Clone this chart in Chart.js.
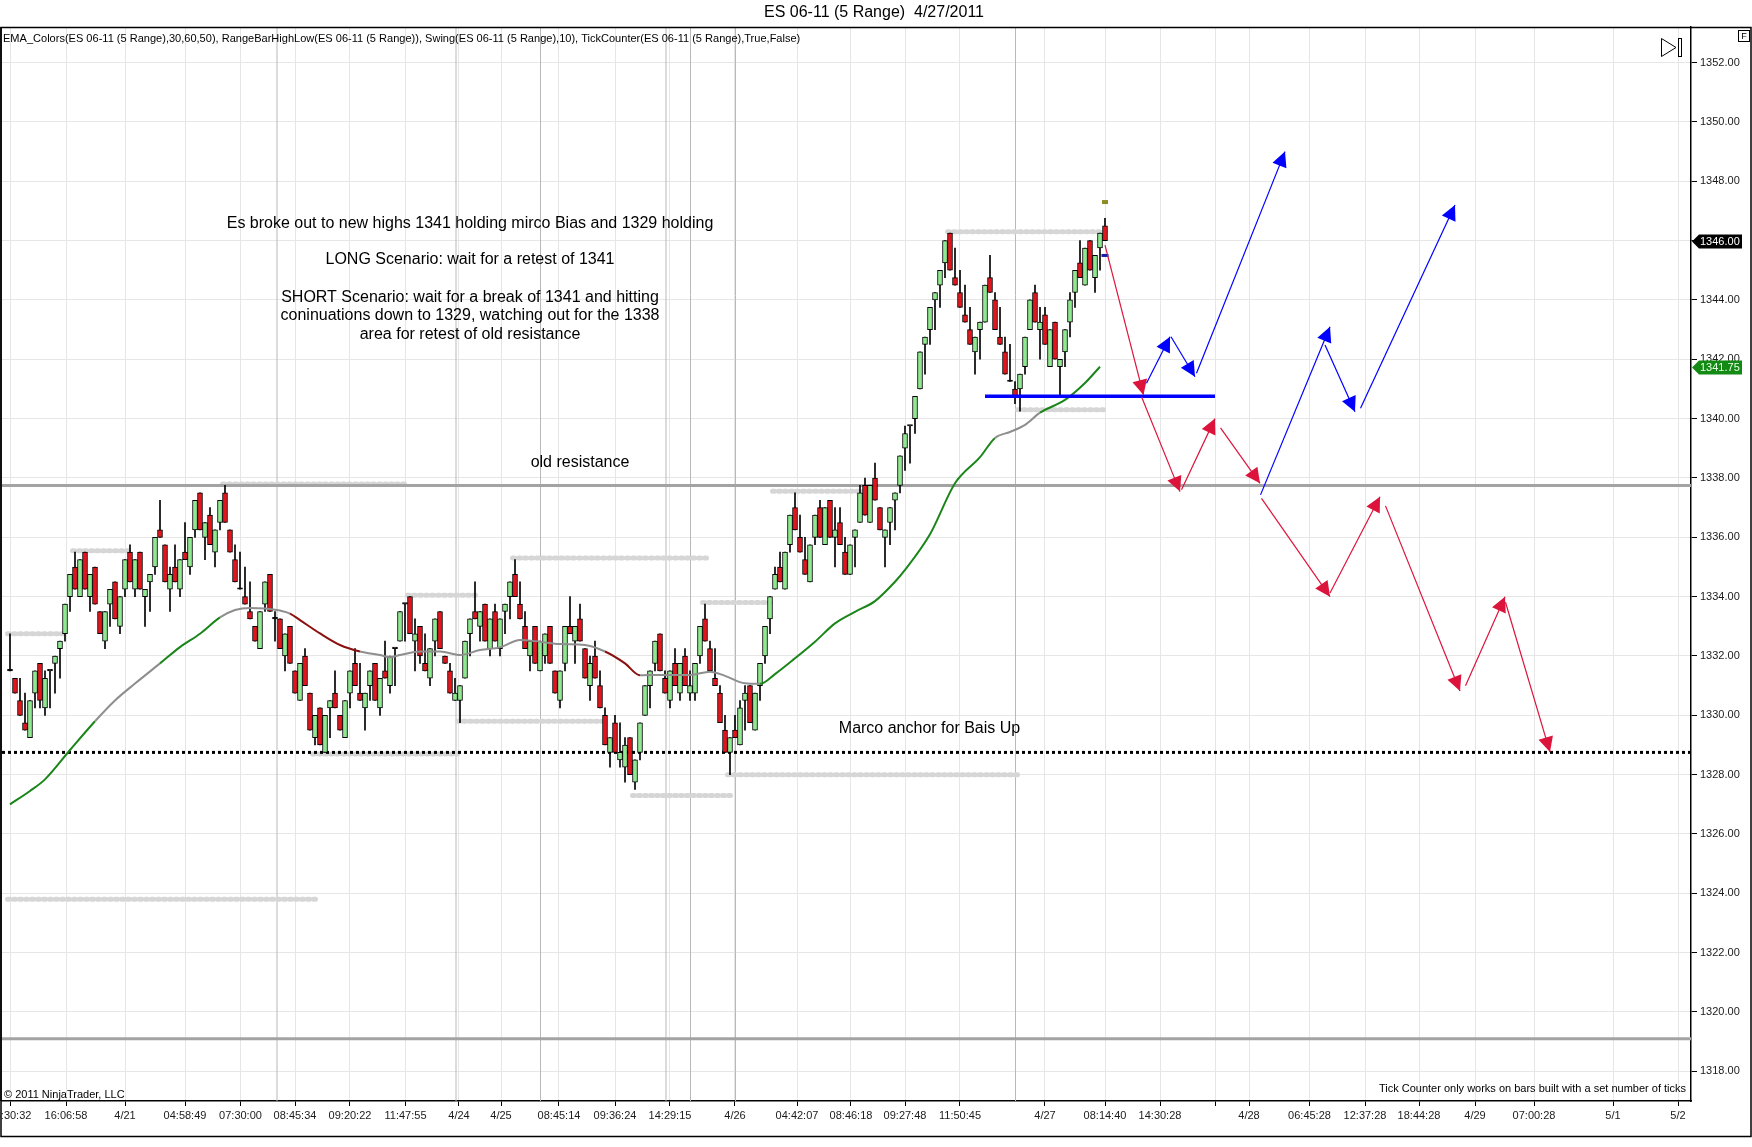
<!DOCTYPE html>
<html><head><meta charset="utf-8">
<script src="https://cdn.jsdelivr.net/npm/chart.js@4.4.1/dist/chart.umd.min.js"></script>
<style>html,body{margin:0;padding:0;background:#fff;overflow:hidden}canvas{display:block}</style>
</head><body>
<canvas id="c" width="1752" height="1147" style="width:1752px;height:1147px"></canvas>
<script>
// ---------- DATA ----------
const chartTitle = 'ES 06-11 (5 Range)  4/27/2011';
const indicatorText = 'EMA_Colors(ES 06-11 (5 Range),30,60,50), RangeBarHighLow(ES 06-11 (5 Range)), Swing(ES 06-11 (5 Range),10), TickCounter(ES 06-11 (5 Range),True,False)';

const opens = [
1331.5,1331.25,1330.5,1329.75,1329.25,1330.75,1331.75,1330.25,1331.5,1331.75,
1332.25,1332.75,1334.0,1335.0,1334.0,1335.5,1334.0,1335.0,1333.5,1332.5,
1333.75,1334.5,1333.0,1334.25,1335.5,1334.25,1335.5,1334.0,1334.5,1335.0,
1336.25,1335.75,1334.25,1335.0,1334.25,1335.5,1335.0,1336.25,1337.5,1336.0,
1336.75,1335.5,1336.5,1337.5,1336.25,1335.25,1334.25,1334.0,1333.5,1333.0,
1332.25,1333.75,1334.75,1333.25,1333.25,1332.0,1333.0,1331.5,1330.5,1332.0,
1330.75,1329.25,1330.25,1328.75,1330.25,1330.75,1330.0,1329.25,1330.75,1331.75,
1330.75,1330.25,1331.0,1331.75,1330.25,1331.5,1331.0,1332.25,1332.5,1333.75,
1334.0,1332.5,1333.0,1331.75,1331.25,1332.5,1333.5,1332.0,1331.5,1330.5,
1330.5,1331.25,1332.75,1333.5,1333.0,1333.75,1332.25,1333.5,1332.25,1333.5,
1334.0,1334.75,1333.75,1333.0,1332.0,1333.0,1331.5,1332.0,1333.0,1331.5,
1330.5,1331.75,1333.0,1332.5,1333.25,1332.25,1331.0,1332.0,1331.0,1330.0,
1328.75,1329.75,1328.5,1328.25,1329.25,1327.75,1328.75,1330.0,1331.0,1331.75,
1332.75,1331.25,1330.5,1331.75,1330.75,1332.0,1330.75,1330.75,1332.0,1333.25,
1332.25,1331.25,1330.75,1329.5,1328.75,1329.5,1329.0,1330.5,1331.0,1329.5,
1331.0,1332.0,1333.25,1334.25,1335.0,1334.25,1335.75,1337.0,1336.0,1335.25,
1334.5,1336.0,1337.0,1335.75,1337.25,1336.0,1336.5,1335.5,1334.75,1336.0,
1336.5,1337.75,1336.5,1338.0,1337.0,1336.0,1336.5,1337.25,1337.75,1339.0,
1339.75,1340.0,1341.0,1342.5,1343.0,1344.0,1344.5,1345.25,1346.25,1344.75,
1344.25,1343.5,1343.0,1342.25,1343.0,1343.25,1344.75,1344.0,1342.75,1342.25,
1341.25,1341.0,1341.0,1341.75,1343.0,1344.25,1343.0,1343.5,1341.75,1343.25,
1341.75,1342.25,1343.25,1344.25,1345.25,1344.5,1346.0,1344.75,1345.75,1346.5];

const highs = [
1332.75,1331.25,1331.25,1330.75,1330.5,1331.5,1331.75,1331.5,1331.5,1332.0,
1332.5,1333.75,1334.75,1335.5,1335.25,1335.5,1334.75,1335.0,1333.5,1333.5,
1334.25,1334.5,1334.0,1335.25,1335.75,1335.25,1335.5,1334.25,1334.75,1336.0,
1337.25,1335.75,1335.0,1335.75,1335.25,1336.5,1336.0,1337.25,1337.5,1336.5,
1337.0,1336.25,1337.25,1337.75,1336.25,1335.75,1335.5,1335.0,1334.5,1333.0,
1333.5,1334.5,1334.75,1333.5,1333.25,1332.75,1333.0,1331.5,1331.75,1332.25,
1330.75,1330.0,1330.25,1330.0,1330.5,1331.5,1330.0,1330.5,1331.5,1332.25,
1331.75,1330.75,1331.5,1331.75,1331.25,1332.5,1332.0,1332.25,1333.5,1333.75,
1334.0,1333.25,1333.0,1332.75,1332.25,1333.25,1333.5,1332.0,1331.75,1331.25,
1331.0,1332.5,1333.25,1334.5,1333.5,1333.75,1333.25,1333.75,1333.25,1333.75,
1334.5,1335.25,1334.5,1333.5,1332.5,1333.0,1332.5,1332.75,1333.0,1331.5,
1331.5,1333.0,1334.0,1333.0,1333.75,1332.25,1332.0,1332.5,1331.5,1330.25,
1329.25,1330.0,1329.75,1329.25,1329.25,1328.5,1329.75,1331.0,1331.5,1332.5,
1332.75,1331.5,1331.5,1332.25,1331.75,1332.25,1331.5,1331.75,1333.0,1333.75,
1332.5,1332.25,1331.0,1330.0,1329.25,1330.0,1330.5,1331.0,1331.0,1330.75,
1331.75,1333.0,1334.0,1335.0,1335.5,1335.5,1336.75,1337.5,1336.75,1336.0,
1335.75,1336.75,1337.25,1337.0,1337.25,1337.0,1337.0,1336.0,1335.75,1336.25,
1337.75,1338.0,1337.75,1338.5,1337.0,1336.25,1337.0,1337.5,1338.75,1339.75,
1339.75,1340.75,1342.25,1342.75,1343.75,1344.25,1345.0,1346.0,1346.25,1345.75,
1345.0,1344.5,1343.75,1342.75,1343.25,1344.5,1345.5,1344.25,1343.75,1342.75,
1342.5,1341.25,1341.5,1342.75,1344.0,1344.5,1343.75,1343.75,1343.0,1343.25,
1342.0,1343.0,1344.25,1345.0,1346.0,1345.75,1346.0,1345.5,1346.25,1346.75];

const lows = [
1331.5,1330.75,1330.0,1329.5,1329.25,1330.25,1330.25,1330.0,1330.25,1330.75,
1331.25,1332.5,1333.5,1334.25,1334.0,1334.25,1333.5,1333.75,1332.75,1332.25,
1333.0,1333.25,1332.75,1334.0,1334.5,1334.0,1334.25,1333.0,1333.5,1334.75,
1336.0,1334.5,1333.5,1334.5,1334.0,1335.25,1334.75,1336.0,1336.25,1335.25,
1335.75,1335.0,1336.25,1336.5,1335.5,1334.5,1334.25,1333.75,1333.25,1332.5,
1332.25,1333.5,1333.5,1332.5,1332.25,1331.5,1331.75,1330.75,1330.5,1331.0,
1329.5,1329.0,1329.0,1328.75,1329.25,1330.25,1329.5,1329.25,1330.25,1331.0,
1330.5,1329.5,1330.5,1330.5,1330.0,1331.25,1330.75,1331.0,1332.5,1332.5,
1332.75,1331.5,1331.75,1331.5,1331.0,1332.0,1332.25,1331.75,1330.75,1330.5,
1329.75,1331.25,1332.0,1333.25,1332.5,1332.5,1332.0,1332.5,1332.0,1332.75,
1333.25,1334.0,1333.25,1332.25,1331.5,1331.75,1331.5,1331.75,1331.75,1330.75,
1330.25,1331.5,1332.75,1331.75,1332.5,1331.25,1330.5,1331.25,1330.25,1329.0,
1328.25,1328.75,1328.25,1327.75,1328.0,1327.5,1328.5,1330.0,1330.25,1331.5,
1331.5,1330.75,1330.25,1331.0,1330.5,1331.0,1330.5,1330.5,1331.75,1332.5,
1331.5,1331.0,1329.75,1328.75,1328.0,1329.25,1329.0,1329.5,1329.75,1329.5,
1330.5,1331.75,1332.75,1334.25,1334.5,1334.25,1335.5,1336.25,1335.5,1334.75,
1334.5,1335.75,1336.0,1335.75,1336.0,1335.0,1335.75,1334.75,1334.75,1335.0,
1336.5,1336.75,1336.5,1337.25,1336.25,1335.0,1335.75,1336.25,1337.5,1338.25,
1338.5,1339.5,1341.0,1341.5,1342.5,1343.0,1343.75,1344.75,1345.0,1344.5,
1343.75,1343.25,1342.5,1341.5,1342.0,1343.25,1344.25,1343.0,1342.5,1341.5,
1341.25,1340.5,1340.25,1341.5,1343.0,1343.25,1342.0,1342.5,1341.75,1342.0,
1340.75,1341.75,1342.75,1343.75,1344.75,1344.5,1345.0,1344.25,1345.0,1346.0];

const closes = [
1331.5,1330.75,1330.0,1329.5,1330.5,1331.5,1330.5,1331.25,1331.5,1332.0,
1332.5,1333.75,1334.75,1334.25,1335.25,1334.25,1334.75,1333.75,1332.75,1333.5,
1334.25,1333.25,1334.0,1335.25,1334.5,1335.25,1334.25,1334.25,1334.75,1336.0,
1336.0,1334.5,1334.75,1334.5,1335.25,1335.25,1336.0,1337.25,1336.25,1336.5,
1335.75,1336.25,1337.25,1336.5,1335.5,1334.5,1334.25,1333.75,1333.25,1332.5,
1333.5,1334.5,1333.5,1333.25,1332.25,1332.75,1331.75,1330.75,1331.75,1331.0,
1329.5,1330.0,1329.0,1330.0,1330.5,1330.25,1329.5,1330.5,1331.5,1331.0,
1330.5,1330.75,1331.5,1330.5,1331.25,1331.25,1332.0,1332.25,1333.5,1333.75,
1332.75,1332.75,1332.0,1331.5,1332.25,1333.25,1332.25,1331.75,1330.75,1330.75,
1331.0,1332.5,1333.25,1333.25,1333.5,1332.5,1333.25,1332.5,1333.25,1333.75,
1334.5,1334.0,1333.25,1332.25,1332.5,1331.75,1332.5,1332.75,1331.75,1330.75,
1331.5,1333.0,1332.75,1333.0,1332.5,1331.25,1331.75,1331.25,1330.25,1329.0,
1329.25,1328.75,1328.75,1329.0,1328.0,1328.5,1329.75,1331.0,1331.5,1332.5,
1331.5,1330.75,1331.5,1331.0,1331.75,1331.0,1331.0,1331.75,1333.0,1332.5,
1331.5,1331.0,1329.75,1328.75,1329.25,1329.25,1330.25,1330.75,1329.75,1330.75,
1331.75,1333.0,1334.0,1334.75,1334.5,1335.5,1336.75,1336.25,1335.5,1334.75,
1335.75,1336.75,1336.0,1337.0,1336.0,1336.25,1335.75,1334.75,1335.75,1336.25,
1337.5,1336.75,1337.75,1337.25,1336.25,1336.25,1337.0,1337.5,1338.75,1339.5,
1339.75,1340.75,1342.25,1342.75,1343.75,1344.25,1345.0,1346.0,1345.0,1344.5,
1343.75,1343.25,1342.5,1342.75,1343.25,1344.5,1344.25,1343.0,1342.5,1341.5,
1341.25,1340.75,1341.5,1342.75,1344.0,1343.25,1343.25,1342.5,1343.0,1342.0,
1342.0,1343.0,1344.0,1345.0,1344.75,1345.75,1345.0,1345.5,1346.25,1346.0];

// EMA (sampled readings: bar index, value)
const emaBars = [1,5,8,13,18,22,26,31,35,39,43,46,49,52,55,57,59,63,67,71,75,77,79,83,87,91,95,99,103,107,111,116,120,124,127,132,137,141,144,148,151,154,158,162,166,170,174,178,180,185,190,195,198,201,204,207,212,216,219];
const emaValues = [1327.0,1327.45,1327.84,1328.83,1329.8,1330.5,1331.07,1331.75,1332.3,1332.75,1333.3,1333.55,1333.62,1333.6,1333.53,1333.43,1333.21,1332.76,1332.37,1332.15,1332.03,1331.96,1332.03,1332.15,1332.15,1332.03,1332.2,1332.29,1332.54,1332.48,1332.4,1332.37,1332.15,1331.75,1331.35,1331.36,1331.36,1331.47,1331.33,1331.08,1331.06,1331.39,1331.92,1332.48,1333.1,1333.49,1333.85,1334.5,1334.9,1336.1,1337.82,1338.7,1339.35,1339.55,1339.79,1340.2,1340.63,1341.2,1341.75];
const emaTrendStart = [1,18,31,43,57,68,118,127,151,198,207];
const emaTrendKind  = ['up','flat','up','flat','down','flat','down','flat','up','flat','up'];

// RangeBarHighLow dotted levels: [price, fromBar, toBar]
const rangeLevels = [
  [1332.75,1,12],[1335.55,14,25],[1337.8,44,80],[1323.8,1,62],[1328.7,62,90],
  [1334.05,81,94],[1329.8,91,120],[1335.3,102,140],[1327.3,126,145],[1333.8,140,153],
  [1328.0,145,202],[1337.55,154,172],[1346.3,189,220],[1340.3,203,220]];

const oldResistance = 1337.75;
const lowerLine = 1319.1;
const marcoAnchor = 1328.75;
const microBias = [1340.75, 196, 242];    // price, fromBar, toBar
const swingMark = [1345.5, 219.3, 220.7];
const tickMark = [1347.3, 219.4, 220.6];
const lastPrice = 1346.00;

// scenario arrows: [fromBar, fromPrice, toBar, toPrice]
const shortArrows = [
  [220,1345.85,227.7,1340.8],[227.3,1340.74,235,1337.54],[235.3,1337.6,242,1340.0],
  [243.1,1339.69,251,1337.82],[251.3,1337.31,265,1334.0],[265,1334.12,275,1337.37],
  [276.1,1337.06,291,1330.82],[292.1,1331.0,300,1334.0],[300.1,1333.81,309,1328.76]];
const longArrows = [
  [228.3,1341.19,233,1342.76],[233.2,1342.76,238,1341.41],[238.3,1341.53,256,1349.0],
  [251.1,1337.43,265,1343.1],[264,1342.48,270,1340.23],[271.1,1340.35,290,1347.2]];

const sessionBreaks = [54.4,90.2,107.1,132.2,137.1,146.1,202.1];
const xTickPos = [1,12.2,24,36,47.1,58,69,80.1,90.8,99.2,110.8,122,133,146,158.4,169.2,180,191,208,220,231,242,248.8,260.9,272,282.8,294,305.8,321.6,334.6];
const xTickLabels = ['13:30:32','16:06:58','4/21','04:58:49','07:30:00','08:45:34','09:20:22','11:47:55','4/24','4/25','08:45:14','09:36:24','14:29:15','4/26','04:42:07','08:46:18','09:27:48','11:50:45','4/27','08:14:40','14:30:28','','4/28','06:45:28','12:37:28','18:44:28','4/29','07:00:28','5/1','5/2'];
const yTicks = [1318,1320,1322,1324,1326,1328,1330,1332,1334,1336,1338,1340,1342,1344,1346,1348,1350,1352];

const notes = [
  ['Es broke out to new highs 1341 holding mirco Bias and 1329 holding', 93, 1346.58],
  ['LONG Scenario: wait for a retest of 1341', 93, 1345.35],
  ['SHORT Scenario: wait for a break of 1341 and hitting', 93, 1344.07],
  ['coninuations down to 1329, watching out for the 1338', 93, 1343.46],
  ['area for retest of old resistance', 93, 1342.82],
  ['old resistance', 115, 1338.52],
  ['Marco anchor for Bais Up', 184.9, 1329.56]];

// ---------- STYLE ----------
const X_MIN = -0.6, X_MAX = 337.2, Y_MIN = 1317.0, Y_MAX = 1353.2;
const UP = '#90e890', DOWN = '#e3141c';
const FONT = '"Liberation Sans", Arial, sans-serif';
const trendColors = {up:'#1a861a', flat:'#8e8e8e', down:'#8b1010'};
function trendAt(x){ let k=0; for(let j=0;j<emaTrendStart.length;j++){ if(x>=emaTrendStart[j]) k=j; } return emaTrendKind[k]; }

const bars = opens.map((_,k)=>k+1);
const datasets = [];

sessionBreaks.forEach(s => datasets.push({type:'line', data:[{x:s,y:Y_MIN},{x:s,y:Y_MAX}], borderColor:'#b9b9b9', borderWidth:1, pointRadius:0, order:30}));
rangeLevels.forEach(r => datasets.push({type:'line', data:[{x:r[1]-0.5,y:r[0]},{x:r[2]+0.5,y:r[0]}], borderColor:'#d6d6d6', borderWidth:5, borderDash:[2,4], borderCapStyle:'round', pointRadius:0, order:28}));
datasets.push({type:'line', data:[{x:X_MIN,y:oldResistance},{x:X_MAX,y:oldResistance}], borderColor:'#a3a3a3', borderWidth:3, pointRadius:0, order:26});
datasets.push({type:'line', data:[{x:X_MIN,y:lowerLine},{x:X_MAX,y:lowerLine}], borderColor:'#a3a3a3', borderWidth:3, pointRadius:0, order:26});
datasets.push({type:'line', data:[{x:X_MIN,y:marcoAnchor},{x:X_MAX,y:marcoAnchor}], borderColor:'#000', borderWidth:3, borderDash:[3,3], pointRadius:0, order:25});
datasets.push({type:'bar', data:bars.map((x,k)=>({x, y:[lows[k],highs[k]]})), backgroundColor:'#000', borderWidth:0, barThickness:1, grouped:false, order:20});
datasets.push({type:'bar', data:bars.map((x,k)=>({x, y:[Math.min(opens[k],closes[k]),Math.max(opens[k],closes[k])]})),
  backgroundColor:bars.map((x,k)=>closes[k]>opens[k]?UP:(closes[k]<opens[k]?DOWN:'#000')),
  borderColor:'#000', borderWidth:1, borderSkipped:false, barThickness:5, minBarLength:1.5, grouped:false, order:19});
datasets.push({type:'line', data:emaBars.map((x,k)=>({x, y:emaValues[k]})), borderWidth:2, pointRadius:0, cubicInterpolationMode:'monotone',
  segment:{borderColor: c => trendColors[trendAt(c.p0.parsed.x)]}, borderColor:trendColors.up, order:15});
datasets.push({type:'line', data:[{x:microBias[1],y:microBias[0]},{x:microBias[2],y:microBias[0]}], borderColor:'#0000ff', borderWidth:3.5, pointRadius:0, order:12});
datasets.push({type:'line', data:[{x:swingMark[1],y:swingMark[0]},{x:swingMark[2],y:swingMark[0]}], borderColor:'#1a1aa8', borderWidth:3, pointRadius:0, order:11});
datasets.push({type:'line', data:[{x:tickMark[1],y:tickMark[0]},{x:tickMark[2],y:tickMark[0]}], borderColor:'#8c8c22', borderWidth:4, pointRadius:0, order:11});
shortArrows.forEach(a => datasets.push({type:'line', isArrow:true, data:[{x:a[0],y:a[1]},{x:a[2],y:a[3]}], borderColor:'#dc143c', borderWidth:1.2, pointRadius:0, order:8}));
longArrows.forEach(a => datasets.push({type:'line', isArrow:true, data:[{x:a[0],y:a[1]},{x:a[2],y:a[3]}], borderColor:'#0000ff', borderWidth:1.2, pointRadius:0, order:8}));

const arrowHeads = {
  id:'arrowHeads',
  afterDatasetsDraw(chart){
    const ctx = chart.ctx;
    chart.data.datasets.forEach((ds,di)=>{
      if(!ds.isArrow) return;
      const pts = chart.getDatasetMeta(di).data;
      const a = pts[0], b = pts[pts.length-1];
      const ang = Math.atan2(b.y-a.y, b.x-a.x), L = 15, W = 7.5;
      const bx = b.x - L*Math.cos(ang), by = b.y - L*Math.sin(ang);
      ctx.save(); ctx.fillStyle = ds.borderColor; ctx.beginPath();
      ctx.moveTo(b.x, b.y);
      ctx.lineTo(bx + W*Math.sin(ang), by - W*Math.cos(ang));
      ctx.lineTo(bx - W*Math.sin(ang), by + W*Math.cos(ang));
      ctx.closePath(); ctx.fill(); ctx.restore();
    });
  }
};

const decorations = {
  id:'decorations',
  afterDraw(chart){
    const ctx = chart.ctx, xs = chart.scales.x, ys = chart.scales.y, ca = chart.chartArea;
    ctx.save();
    // notes
    ctx.fillStyle = '#000'; ctx.font = '16px ' + FONT; ctx.textAlign = 'center'; ctx.textBaseline = 'middle';
    notes.forEach(n => ctx.fillText(n[0], xs.getPixelForValue(n[1]), ys.getPixelForValue(n[2])));
    // title
    ctx.font = '16px ' + FONT; ctx.fillText(chartTitle, 874, 13);
    // indicator text
    ctx.textAlign = 'left';
    ctx.font = '11px ' + FONT;
    const w = ctx.measureText(indicatorText).width;
    const fs = 11 * 798 / w;
    ctx.font = fs.toFixed(2) + 'px ' + FONT;
    ctx.fillText(indicatorText, 3, 39);
    ctx.font = '11px ' + FONT;
    ctx.fillText('\u00a9 2011 NinjaTrader, LLC', 4, 1095);
    ctx.textAlign = 'right';
    ctx.fillText('Tick Counter only works on bars built with a set number of ticks', 1686, 1089);
    // price markers on axis
    function marker(val, bg, fg){
      const y = Math.round(ys.getPixelForValue(val)) + 0.5, x0 = ca.right + 1;
      ctx.fillStyle = bg; ctx.beginPath();
      ctx.moveTo(x0, y); ctx.lineTo(x0+7, y-7); ctx.lineTo(x0+50, y-7); ctx.lineTo(x0+50, y+7); ctx.lineTo(x0+7, y+7); ctx.closePath(); ctx.fill();
      ctx.fillStyle = fg; ctx.textAlign = 'left'; ctx.textBaseline = 'middle'; ctx.font = '11px ' + FONT;
      ctx.fillText(val.toFixed(2), x0+8, y+0.5);
    }
    marker(lastPrice, '#000', '#fff');
    marker(emaValues[emaValues.length-1], '#138a13', '#e8ffe8');
    // frame
    ctx.strokeStyle = '#000'; ctx.lineWidth = 1.5;
    ctx.strokeRect(1, 27.5, 1750, 1109);
    ctx.beginPath(); ctx.moveTo(1, ca.top); ctx.lineTo(1, ca.bottom); ctx.stroke();
    // F box
    ctx.lineWidth = 1; ctx.strokeRect(1738.5, 30.5, 11, 11);
    ctx.fillStyle = '#000'; ctx.font = '9px ' + FONT; ctx.textAlign = 'center'; ctx.fillText('F', 1744, 36.5);
    // scroll-to-end icon
    ctx.beginPath(); ctx.moveTo(1661.5, 38.5); ctx.lineTo(1676, 47.5); ctx.lineTo(1661.5, 56.5); ctx.closePath(); ctx.stroke();
    ctx.strokeRect(1678.5, 38.5, 3, 18);
    ctx.restore();
  }
};

new Chart(document.getElementById('c'), {
  type:'bar',
  data:{datasets},
  plugins:[arrowHeads, decorations],
  options:{
    responsive:false, animation:false, devicePixelRatio:1, events:[],
    layout:{padding:{left:2, top:27, right:0, bottom:0}},
    plugins:{legend:{display:false}, tooltip:{enabled:false}, title:{display:false}},
    scales:{
      x:{type:'linear', min:X_MIN, max:X_MAX, offset:false,
        grid:{color:'#e6e6e6', lineWidth:1, offset:false, drawTicks:true, tickLength:5, tickColor:'#000'},
        border:{display:true, color:'#000', width:1.5},
        ticks:{autoSkip:false, maxRotation:0, minRotation:0, padding:3, color:'#1a1a1a', font:{family:FONT, size:11},
          callback:(v,i)=>xTickLabels[i]},
        afterBuildTicks:s=>{ s.ticks = xTickPos.map(v=>({value:v})); },
        afterFit:s=>{ s.height = 46; s.paddingLeft = 0; s.paddingRight = 0; }},
      y:{type:'linear', position:'right', min:Y_MIN, max:Y_MAX,
        grid:{color:'#e6e6e6', lineWidth:1, drawTicks:true, tickLength:6, tickColor:'#000'},
        border:{display:true, color:'#000', width:1.5},
        ticks:{padding:3, color:'#1a1a1a', font:{family:FONT, size:11}, callback:v=>Number(v).toFixed(2)},
        afterBuildTicks:s=>{ s.ticks = yTicks.map(v=>({value:v})); },
        afterFit:s=>{ s.width = 61; s.paddingTop = 0; s.paddingBottom = 0; }}
    }
  }
});
</script>
</body></html>
